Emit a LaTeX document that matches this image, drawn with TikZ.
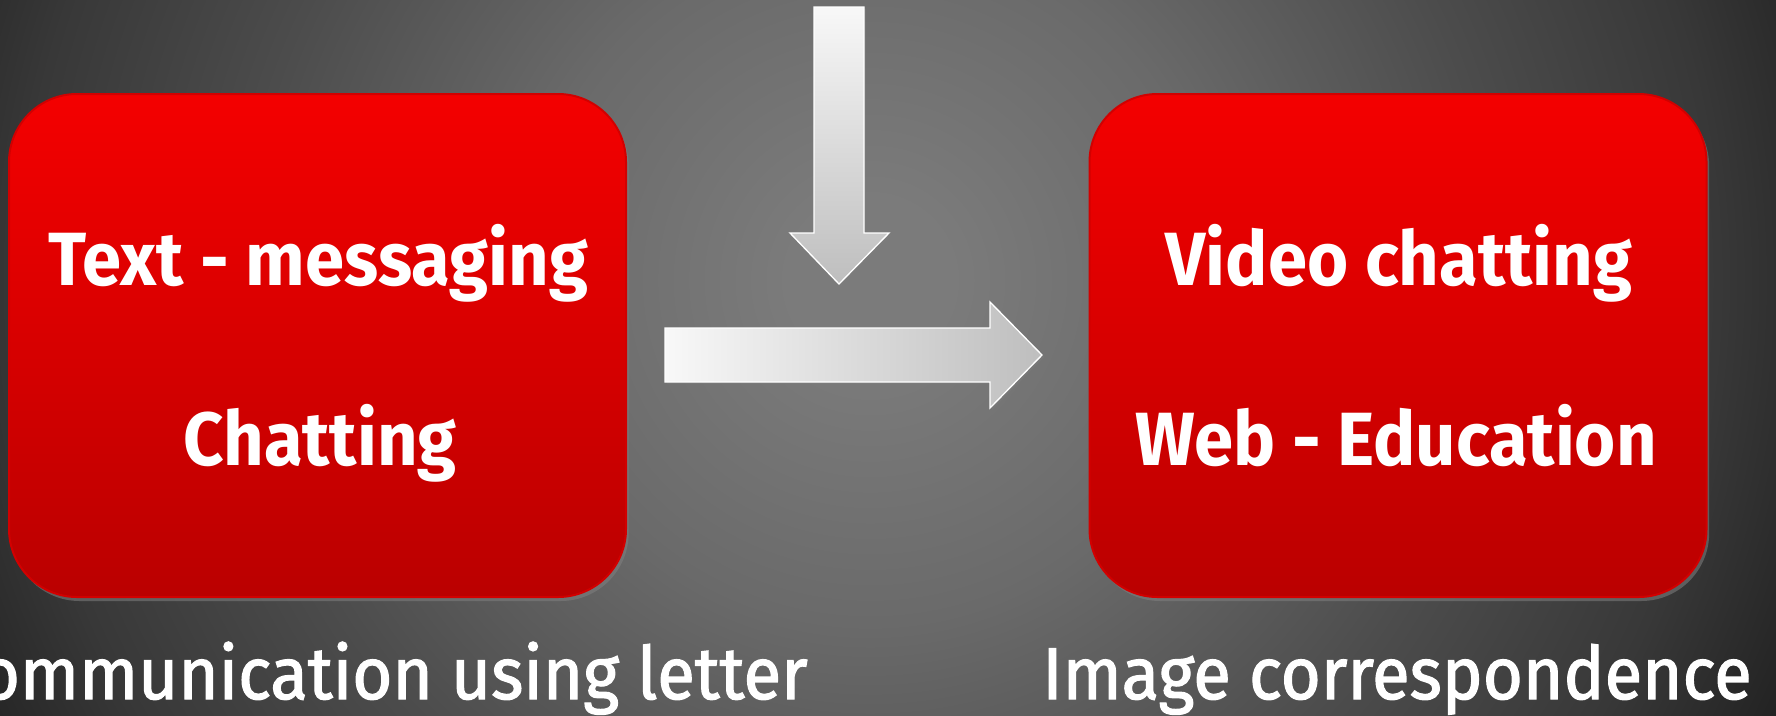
\documentclass[tikz,border=0pt]{standalone}
\usepackage{fontspec}
\setmainfont{Fira Sans}
\newfontfamily\boxfont[FakeStretch=0.935]{Fira Sans}
\newfontfamily\capfont[FakeStretch=0.94, FakeBold=1.6]{Fira Sans}
\usetikzlibrary{shadows}
\definecolor{bgin}{HTML}{7B7B7B}
\definecolor{bgmid}{HTML}{6A6A6A}
\definecolor{bgmid2}{HTML}{4C4C4C}
\definecolor{bgdark}{HTML}{383838}
\definecolor{bgout}{HTML}{222222}
\definecolor{redtop}{HTML}{F40000}
\definecolor{redbot}{HTML}{BA0000}
\definecolor{redline}{HTML}{D20000}
\definecolor{arrlight}{HTML}{F8F8F8}
\definecolor{arrdark}{HTML}{BEBEBE}
\pgfdeclareradialshading{bgshade}{\pgfpoint{0bp}{0bp}}{color(0bp)=(bgin); color(2bp)=(bgin); color(8.5bp)=(bgmid); color(15.5bp)=(bgmid2); color(21bp)=(bgdark); color(25bp)=(bgout); color(50bp)=(bgout)}
\tikzset{
  redbox/.style={draw=redline, line width=1.5pt, top color=redtop, bottom color=redbot,
    rounded corners=51pt, minimum width=462.75pt, minimum height=377.25pt, inner sep=0pt,
    drop shadow={opacity=0.55, shadow xshift=2pt, shadow yshift=-3pt}},
  boxtext/.style={text=white, anchor=base, inner sep=0pt, font=\boxfont\bfseries\fontsize{56.6pt}{60pt}\selectfont},
  captext/.style={text=white, inner sep=0pt, font=\capfont\fontsize{55pt}{60pt}\selectfont},
  blockarrow/.style={draw=white, line width=1pt, line join=miter,
    drop shadow={opacity=0.35, shadow xshift=1.5pt, shadow yshift=-1.5pt}}
}
\begin{document}
\begin{tikzpicture}[x=0.75pt, y=-0.75pt]
\useasboundingbox (0,0) rectangle (1776,715);
\clip (0,0) rectangle (1776,715);
\fill[bgout] (0,0) rectangle (1776,715);
\shade[shading=bgshade] (870,280) circle [radius=757.5pt];

\node[redbox] (left) at (317.5,345.5) {};
\node[redbox] (right) at (1398,345.5) {};

\node[boxtext] (t1) at (318,285) {Text - messaging};
\node[boxtext] (t2) at (320,465) {Chatting};
\node[boxtext] (t3) at (1399,285) {Video chatting};
\node[boxtext] (t4) at (1396,465) {Web - Education};

% down arrow
\coordinate (dtop) at (839,7);
\coordinate (dtip) at (839,284);
\shade[blockarrow, top color=arrlight, bottom color=arrdark]
  (814,7) -- (864,7) -- (864,233) -- (889,233) -- (dtip) -- (790,233) -- (814,233) -- cycle;

% right arrow
\coordinate (rstart) at (665,355);
\coordinate (rtip) at (1042,355);
\shade[blockarrow, left color=arrlight, right color=arrdark]
  (665,328) -- (990,328) -- (990,302) -- (rtip) -- (990,408) -- (990,382) -- (665,382) -- cycle;

\node[captext, anchor=base east] (c1) at (808,699) {Communication using letter};
\node[captext, anchor=base] (c2) at (1397,699) {Image correspondence};
\end{tikzpicture}
\end{document}
